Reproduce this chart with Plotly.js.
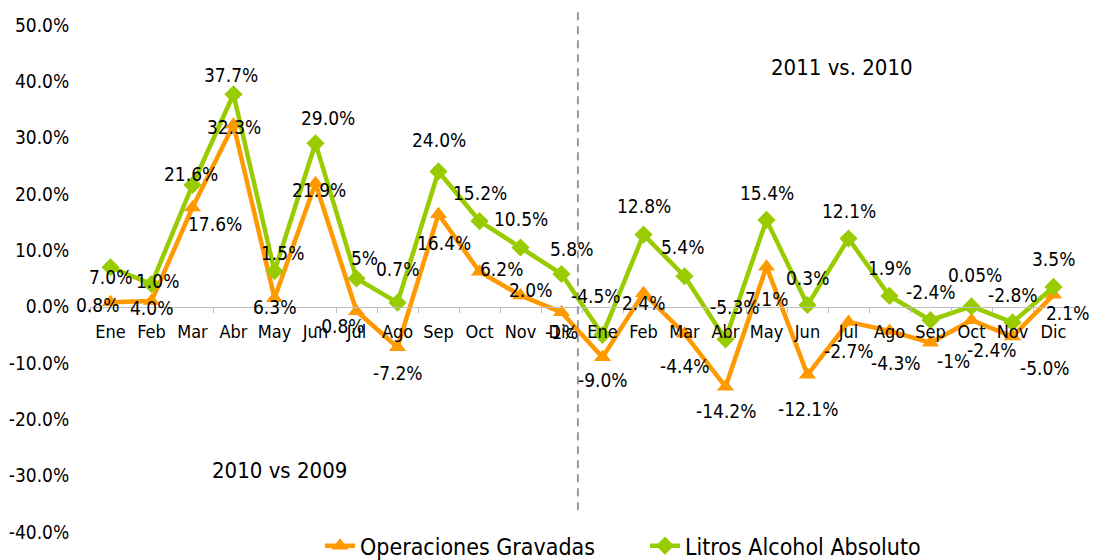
<!DOCTYPE html>
<html>
<head>
<meta charset="utf-8">
<script src="https://cdn.plot.ly/plotly-3.0.1.min.js"></script>
<style>
  html, body { margin: 0; padding: 0; background: #fff; }
  #chart { width: 1094px; height: 560px; }
</style>
</head>
<body>
<div id="chart"></div>
<script>
// ---- data ----
var months = ["Ene","Feb","Mar","Abr","May","Jun","Jul","Ago","Sep","Oct","Nov","Dic",
              "Ene","Feb","Mar","Abr","May","Jun","Jul","Ago","Sep","Oct","Nov","Dic"];
var operaciones = [0.8, 1.0, 17.6, 32.3, 1.5, 21.9, -0.8, -7.2, 16.4, 6.2, 2.0, -1.0,
                   -9.0, 2.4, -4.8, -14.2, 7.1, -12.1, -2.7, -4.3, -6.4, -2.4, -5.3, 2.1];
var litros = [7.0, 4.0, 21.6, 37.7, 6.3, 29.0, 5.0, 0.7, 24.0, 15.2, 10.5, 5.8,
              -5.0, 12.8, 5.4, -5.8, 15.4, 0.3, 12.1, 1.9, -2.4, 0.05, -2.8, 3.5];
var operacionesLabels = ["0.8%","4.0%","17.6%","32.3%","6.3%","21.9%","-0.8%","-7.2%","16.4%","6.2%","2.0%","-1%",
                         "-9.0%","2.4%","-4.4%","-14.2%","7.1%","-12.1%","-2.7%","-4.3%","-1%","-2.4%","-5.0%","2.1%"];
var litrosLabels = ["7.0%","1.0%","21.6%","37.7%","1.5%","29.0%","5%","0.7%","24.0%","15.2%","10.5%","5.8%",
                    "-4.5%","12.8%","5.4%","-5.3%","15.4%","0.3%","12.1%","1.9%","-2.4%","0.05%","-2.8%","3.5%"];
var yTicks = [-40, -30, -20, -10, 0, 10, 20, 30, 40, 50];

// ---- label placement (pixel offsets: dx right, dy down) ----
var opOffX = [-13,0,22,0,0,3,-17,0,5,22,10,0, 0,0,0,0,0,0,0,6,23,20,32,14];
var opOffY = [3,7,16,2,9,7,15,26,29,-3,-5,20, 23,10,32,24,32,34,29,32,18,30,31,18];
var liOffX = [0,6,-2,-3,8,12,8,0,0,0,0,10, -7,0,-2,9,0,0,0,0,0,3,0,0];
var liOffY = [10,-3,-11,-19,-18,-25,-21,-34,-31,-28,-29,-25, -39,-29,-29,-32,-27,-27,-28,-28,-28,-31,-27,-28];

var FONT = "'DejaVu Sans Condensed', 'DejaVu Sans', sans-serif";
var ORANGE = "#FF9900";
var GREEN = "#99CC00";

var idx = months.map(function(_, i){ return i; });

var traces = [
  {
    x: idx, y: operaciones, name: "Operaciones Gravadas", type: "scatter", mode: "lines+markers",
    line: {color: ORANGE, width: 4.5},
    marker: {symbol: "triangle-up", size: 15, color: ORANGE},
    hoverinfo: "skip"
  },
  {
    x: idx, y: litros, name: "Litros Alcohol Absoluto", type: "scatter", mode: "lines+markers",
    line: {color: GREEN, width: 4.5},
    marker: {symbol: "diamond", size: 14, color: GREEN},
    hoverinfo: "skip"
  }
];

var annotations = [];
idx.forEach(function(i){
  annotations.push({x: i, y: operaciones[i], xref: "x", yref: "y", text: operacionesLabels[i],
    showarrow: false, xanchor: "center", yanchor: "middle",
    xshift: opOffX[i], yshift: -opOffY[i], font: {family: FONT, size: 19, color: "#000"}});
});
idx.forEach(function(i){
  annotations.push({x: i, y: litros[i], xref: "x", yref: "y", text: litrosLabels[i],
    showarrow: false, xanchor: "center", yanchor: "middle",
    xshift: liOffX[i], yshift: -liOffY[i], font: {family: FONT, size: 19, color: "#000"}});
});
annotations.push({x: 0.764, y: 0.917, xref: "paper", yref: "paper", text: "2011 vs. 2010",
  showarrow: false, xanchor: "center", yanchor: "middle", font: {family: FONT, size: 22, color: "#000"}});
annotations.push({x: 0.193, y: 0.122, xref: "paper", yref: "paper", text: "2010 vs 2009",
  showarrow: false, xanchor: "center", yanchor: "middle", font: {family: FONT, size: 22, color: "#000"}});

var layout = {
  width: 1094, height: 560,
  margin: {l: 90, r: 20, t: 25, b: 28, pad: 0, autoexpand: false},
  paper_bgcolor: "#fff", plot_bgcolor: "#fff",
  font: {family: FONT, size: 18, color: "#000"},
  showlegend: true,
  legend: {orientation: "h", x: 0.564, xanchor: "center", y: -0.027, yanchor: "middle",
           entrywidth: 280, entrywidthmode: "pixels",
           font: {family: FONT, size: 23, color: "#000"}, bgcolor: "rgba(0,0,0,0)"},
  xaxis: {
    range: [-0.5, 23.5], tickmode: "array", tickvals: idx, ticktext: months,
    anchor: "free", position: 40/90, showgrid: false, zeroline: false,
    showline: true, linecolor: "#BFBFBF", linewidth: 1.5,
    ticks: "outside", ticklen: 8, tickcolor: "rgba(0,0,0,0)",
    minor: {tick0: 0.5, dtick: 1, ticks: "outside", ticklen: 5, tickcolor: "#BFBFBF", tickwidth: 1, showgrid: false},
    tickfont: {family: FONT, size: 18, color: "#000"}, fixedrange: true
  },
  yaxis: {
    range: [-40, 50], tickmode: "array", tickvals: yTicks,
    ticktext: yTicks.map(function(v){ return v.toFixed(1) + "%"; }),
    showgrid: false, zeroline: false, showline: false,
    ticks: "outside", ticklen: 16, tickcolor: "rgba(0,0,0,0)",
    tickfont: {family: FONT, size: 19, color: "#000"}, fixedrange: true
  },
  shapes: [{
    type: "line", xref: "x", yref: "paper", x0: 11.4, x1: 11.4, y0: 0.043, y1: 1.026,
    line: {color: "#999999", width: 2, dash: "8px,6px"}
  }],
  annotations: annotations
};

Plotly.newPlot("chart", traces, layout, {displayModeBar: false, staticPlot: true});
</script>
</body>
</html>
